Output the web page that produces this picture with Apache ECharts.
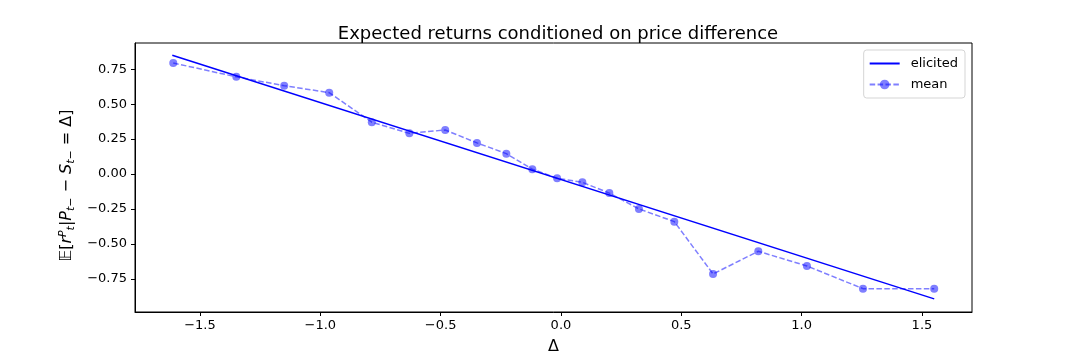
<!DOCTYPE html>
<html>
<head>
<meta charset="utf-8">
<script src="https://cdn.jsdelivr.net/npm/echarts@6/dist/echarts.min.js"></script>
<style>
  html, body { margin: 0; padding: 0; background: #fff; }
  #chart { width: 1080px; height: 360px; }
</style>
</head>
<body>
<div id="chart"></div>
<script>
// price difference bins (x) and conditional mean returns
var deltas = [-1.611, -1.349, -1.150, -0.963, -0.786, -0.630, -0.481, -0.349, -0.227, -0.119,
              -0.016, 0.089, 0.201, 0.324, 0.471, 0.632, 0.820, 1.022, 1.255, 1.551];
var meanReturns = [0.794, 0.695, 0.632, 0.582, 0.371, 0.291, 0.315, 0.223, 0.146, 0.035,
                   -0.030, -0.059, -0.136, -0.249, -0.340, -0.714, -0.552, -0.657, -0.819, -0.819];
// elicited (fitted) line end points
var elicitedX = [-1.615, 1.551];
var elicitedY = [0.850, -0.892];
var xTicks = [-1.5, -1.0, -0.5, 0.0, 0.5, 1.0, 1.5];
var yTicks = [-0.75, -0.5, -0.25, 0.0, 0.25, 0.5, 0.75];

var FONT = 'DejaVu Sans';
var fmt = function (digits) {
    return function (v) {
        let s = Math.abs(v).toFixed(digits);
        return (v < -1e-9 ? '\u2212' : '') + s;
    };
};

var chart = echarts.init(document.getElementById('chart'), null, {renderer: 'canvas'});
chart.setOption({
    animation: false,
    backgroundColor: '#fff',
    textStyle: {fontFamily: FONT},
    title: {
        text: 'Expected returns conditioned on price difference',
        left: 553,
        textAlign: 'center',
        top: 20,
        textStyle: {fontFamily: FONT, fontSize: 18, fontWeight: 'normal', color: '#000'}
    },
    grid: {
        left: 135,
        right: 108,
        top: 43,
        bottom: 45,
        show: true,
        borderColor: '#000',
        borderWidth: 1,
        backgroundColor: 'transparent'
    },
    legend: {
        orient: 'vertical',
        right: 115,
        top: 50,
        padding: [7, 7, 7, 5],
        itemGap: 8,
        itemWidth: 30,
        itemHeight: 12,
        backgroundColor: 'rgba(255,255,255,0.8)',
        borderColor: '#d5d5d5',
        borderWidth: 1,
        borderRadius: 3,
        textStyle: {fontFamily: FONT, fontSize: 13, color: '#000', padding: [0, 0, 0, 6]},
        data: [
            {name: 'elicited', itemStyle: {opacity: 0}},
            {name: 'mean'}
        ]
    },
    xAxis: {
        type: 'value',
        min: -1.770,
        max: 1.708,
        name: 'Δ',
        nameLocation: 'middle',
        nameGap: 27,
        nameTextStyle: {fontFamily: FONT, fontSize: 16, color: '#000'},
        splitLine: {show: false},
        axisLine: {onZero: false, lineStyle: {color: '#000'}},
        axisTick: {show: true, length: 4, customValues: xTicks, lineStyle: {color: '#000'}},
        axisLabel: {customValues: xTicks, formatter: fmt(1), fontFamily: FONT, fontSize: 13, color: '#000', margin: 7}
    },
    yAxis: {
        type: 'value',
        min: -0.986,
        max: 0.937,
        name: '{bb|𝔼}[{it|r}{sup|P}{sub|t}|{it|P}{sub|t−} − {it|S}{sub|t−} = Δ]',
        nameLocation: 'middle',
        nameGap: 55,
        nameTextStyle: {
            fontFamily: FONT, fontSize: 16, color: '#000',
            padding: [0, 16, 0, 0],
            rich: {
                bb: {fontFamily: FONT, fontSize: 16, color: '#000'},
                it: {fontFamily: FONT, fontSize: 16, fontStyle: 'italic', color: '#000'},
                sup: {fontFamily: FONT, fontSize: 11, fontStyle: 'italic', color: '#000', padding: [0, 0, 8, 0]},
                sub: {fontFamily: FONT, fontSize: 11, fontStyle: 'italic', color: '#000', padding: [8, 0, 0, 0]}
            }
        },
        splitLine: {show: false},
        axisLine: {show: true, onZero: false, lineStyle: {color: '#000'}},
        axisTick: {show: true, length: 4, customValues: yTicks, lineStyle: {color: '#000'}},
        axisLabel: {customValues: yTicks, formatter: fmt(2), fontFamily: FONT, fontSize: 13, color: '#000', margin: 8}
    },
    series: [{
        name: 'elicited',
        type: 'line',
        showSymbol: false,
        symbol: 'none',
        color: '#0000ff',
        lineStyle: {color: '#0000ff', width: 1.5},
        data: elicitedX.map((x, i) => [x, elicitedY[i]])
    }, {
        name: 'mean',
        type: 'line',
        symbol: 'circle',
        symbolSize: 8,
        color: 'rgba(0,0,255,0.5)',
        itemStyle: {color: 'rgba(0,0,255,0.5)'},
        lineStyle: {color: 'rgba(0,0,255,0.5)', width: 1.5, type: [5.5, 2.4]},
        data: deltas.map((x, i) => [x, meanReturns[i]])
    }]
});
</script>
</body>
</html>
